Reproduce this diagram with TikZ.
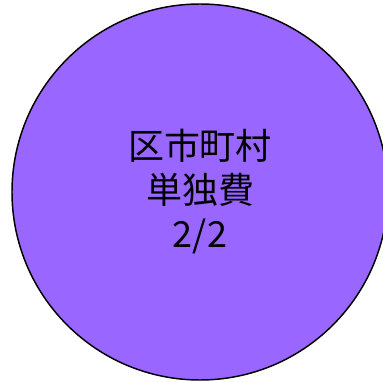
\documentclass[tikz,border=0pt]{standalone}
\usepackage{fontspec}
\newfontfamily\cjk{Noto Sans CJK JP}
\definecolor{costviolet}{RGB}{153, 102, 255}
\usetikzlibrary{positioning}

\begin{document}
\begin{tikzpicture}[
  x=0.75pt, y=-0.75pt,
  costnode/.style={circle, draw=black, line width=1.1pt, fill=costviolet, minimum size=282pt, inner sep=0pt, align=center, font=\cjk\fontsize{27}{33}\selectfont}
]
  \clip (0,0) rectangle (383,382);
  \node[costnode] (share) at (200, 192) {区市町村\\単独費\\2/2};
\end{tikzpicture}
\end{document}
